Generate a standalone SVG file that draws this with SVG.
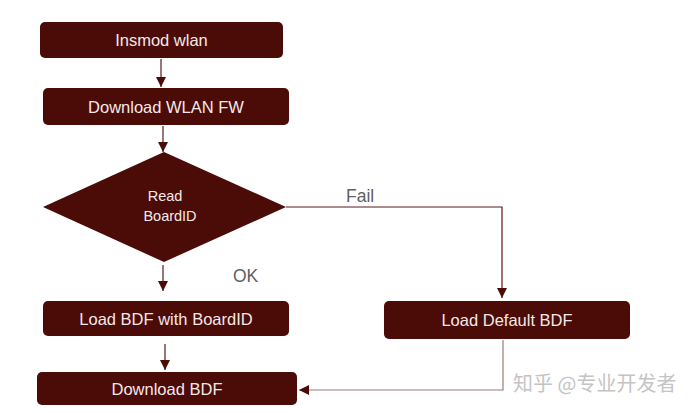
<svg xmlns="http://www.w3.org/2000/svg" width="700" height="413" viewBox="0 0 700 413">
<defs>
<style>
.box{fill:#4b0b07;}
.t{font-family:"Liberation Sans",Arial,sans-serif;font-size:16.5px;fill:#f5e8e8;text-anchor:middle;}
.td{font-family:"Liberation Sans",Arial,sans-serif;font-size:14.5px;fill:#f5e8e8;text-anchor:middle;}
.lbl{font-family:"Liberation Sans",Arial,sans-serif;font-size:17.5px;fill:#5f5f5f;}
.c{fill:none;stroke:#5a1a16;stroke-width:1.2;}
.c2{fill:none;stroke:#9a7c7a;stroke-width:1.2;}
</style>
<marker id="ah" viewBox="0 0 10 10" refX="10" refY="5" markerWidth="10" markerHeight="10" markerUnits="userSpaceOnUse" orient="auto">
<path d="M0,0 L10,5 L0,10 z" fill="#4b0b07"/>
</marker>
</defs>
<rect width="700" height="413" fill="#ffffff"/>
<g id="connectors">
<line class="c" x1="161" y1="59" x2="161" y2="87" marker-end="url(#ah)"/>
<line class="c" x1="163" y1="126" x2="163" y2="152" marker-end="url(#ah)"/>
<line class="c" x1="163" y1="265" x2="163" y2="291" marker-end="url(#ah)"/>
<line class="c" x1="165" y1="344" x2="165" y2="370" marker-end="url(#ah)"/>
<polyline class="c" points="286,207 502,207 502,298" marker-end="url(#ah)"/>
<polyline class="c2" points="503,340 503,390 299,390" marker-end="url(#ah)"/>
<text class="lbl" x="346" y="202">Fail</text>
<text class="lbl" x="233" y="282">OK</text>
</g>
<g id="insmod">
<rect class="box" x="40" y="22" width="243" height="36" rx="5"/>
<text class="t" x="161.5" y="46">Insmod wlan</text>
</g>
<g id="download-fw">
<rect class="box" x="43" y="88" width="246" height="37" rx="5"/>
<text class="t" x="166" y="112.5">Download WLAN FW</text>
</g>
<g id="read-boardid">
<polygon class="box" points="164,152 286,207 164,262 43,207"/>
<text class="td" x="165" y="201">Read</text>
<text class="td" x="170" y="221">BoardID</text>
</g>
<g id="load-bdf">
<rect class="box" x="43" y="301" width="246" height="35" rx="5"/>
<text class="t" x="166" y="324.5">Load BDF with BoardID</text>
</g>
<g id="load-default">
<rect class="box" x="384" y="301" width="246" height="38" rx="5"/>
<text class="t" x="507" y="326">Load Default BDF</text>
</g>
<g id="download-bdf">
<rect class="box" x="37" y="372" width="260" height="33" rx="5"/>
<text class="t" x="167" y="394.5">Download BDF</text>
</g>
<text x="513" y="391" font-family="'Noto Sans CJK SC',sans-serif" font-size="20" fill="#c4c4c4">知乎 @专业开发者</text>
</svg>
